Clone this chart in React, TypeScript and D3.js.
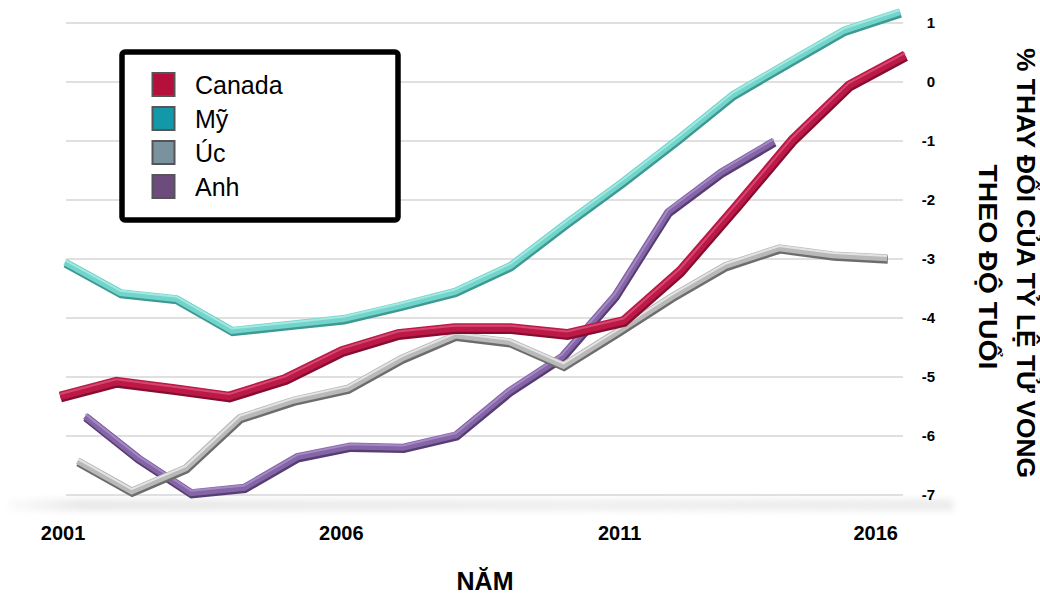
import React from "react";
import * as d3 from "d3";

const years = [2001, 2002, 2003, 2004, 2005, 2006, 2007, 2008, 2009, 2010, 2011, 2012, 2013, 2014, 2015, 2016];
const canada = [-5.32, -5.07, -5.19, -5.32, -5.02, -4.55, -4.26, -4.16, -4.16, -4.26, -4.04, -3.2, -2.1, -0.97, -0.05, 0.46];
const my = [-3.05, -3.57, -3.67, -4.21, -4.11, -4.01, -3.79, -3.55, -3.11, -2.39, -1.7, -0.97, -0.21, 0.34, 0.88, 1.19];
const uc = [-6.42, -6.93, -6.54, -5.69, -5.39, -5.19, -4.68, -4.29, -4.4, -4.8, -4.23, -3.64, -3.11, -2.81, -2.93, -2.98];
const anh = [-5.66, -6.37, -6.96, -6.87, -6.35, -6.17, -6.19, -5.98, -5.24, -4.65, -3.62, -2.2, -1.53, -1.0];
const yTicks = [1, 0, -1, -2, -3, -4, -5, -6, -7];
const xTickYears = [2001, 2006, 2011, 2016];
const seriesNames = ["Canada", "Mỹ", "Úc", "Anh"];
const yTitle1 = "% THAY ĐỔI CỦA TỶ LỆ TỬ VONG";
const yTitle2 = "THEO ĐỘ TUỔI";
const xTitle = "NĂM";

const W = 1040;
const H = 594;
const FONT = "'Liberation Sans', Arial, Helvetica, sans-serif";

const base = d3.scaleLinear().domain([2001, 2016]).range([60, 905]);
const cx = 482.5;
const y = d3.scaleLinear().domain([-7, 1]).range([495, 23]);

type S = {
  name: string;
  values: number[];
  depth: number;
  main: string;
  dark: string;
  light: string;
  swatch: string;
  width: number;
};

const series: S[] = [
  { name: seriesNames[0], values: canada, depth: 1, main: "#bc1947", dark: "#860d31", light: "#d9507a", swatch: "#b5103c", width: 10 },
  { name: seriesNames[1], values: my, depth: 0.988, main: "#72d4ca", dark: "#3d9991", light: "#a9ece5", swatch: "#1298a8", width: 8.5 },
  { name: seriesNames[2], values: uc, depth: 0.958, main: "#b9b9b9", dark: "#6d6d6d", light: "#eaeaea", swatch: "#7a929e", width: 8.5 },
  { name: seriesNames[3], values: anh, depth: 0.94, main: "#8465a6", dark: "#563d73", light: "#ab8ecb", swatch: "#6b4c7c", width: 8.5 },
];

function xFor(s: S) {
  const [r0, r1] = base.range();
  return d3
    .scaleLinear()
    .domain(base.domain())
    .range([cx - (cx - r0) * s.depth, cx + (r1 - cx) * s.depth]);
}

export default function App() {
  const drawOrder = [...series].reverse();
  const labelX = xFor(series[1]);
  return (
    <svg width={W} height={H} style={{ display: "block", position: "absolute", left: 0, top: 0, background: "#fff" }} fontFamily={FONT}>
      <defs>
        <linearGradient id="floorGrad" x1="0" x2="1" y1="0" y2="0">
          <stop offset="0" stopColor="#ececec" stopOpacity="0.2" />
          <stop offset="0.08" stopColor="#e9e9e9" stopOpacity="1" />
          <stop offset="0.6" stopColor="#f0f0f0" stopOpacity="1" />
          <stop offset="1" stopColor="#eaeaea" stopOpacity="0.9" />
        </linearGradient>
        <filter id="blur4" x="-5%" y="-100%" width="110%" height="300%">
          <feGaussianBlur stdDeviation="3" />
        </filter>
      </defs>
      <rect x={0} y={0} width={W} height={H} fill="#fff" />
      {/* floor */}
      <rect x={8} y={499} width={945} height={12} fill="url(#floorGrad)" filter="url(#blur4)" />
      {/* gridlines */}
      {yTicks.map((t) => (
        <line key={t} x1={66} x2={903} y1={y(t)} y2={y(t)} stroke="#d6d6d6" strokeWidth={1.5} />
      ))}
      {/* y tick labels */}
      {yTicks.map((t) => (
        <text key={"l" + t} x={935} y={y(t)} dy="0.36em" textAnchor="end" fontSize={15} fontWeight="bold" fill="#000">
          {t < 0 ? "-" + Math.abs(t) : String(t)}
        </text>
      ))}
      {/* series */}
      {drawOrder.map((s) => {
        const xs = xFor(s);
        const line = d3
          .line<number>()
          .x((_, i) => xs(years[i]))
          .y((v) => y(v));
        const d = line(s.values) || "";
        return (
          <g key={s.name}>
            <path d={d} fill="none" stroke={s.dark} strokeWidth={s.width} transform="translate(0.6,1.6)" strokeLinejoin="miter" />
            <path d={d} fill="none" stroke={s.main} strokeWidth={s.width - 1.5} strokeLinejoin="miter" />
            <path d={d} fill="none" stroke={s.light} strokeWidth={2} transform="translate(0,-1.8)" strokeLinejoin="miter" opacity={0.85} />
          </g>
        );
      })}
      {/* x labels */}
      {xTickYears.map((yr, i) => (
        <text
          key={yr}
          x={labelX(yr) - 2}
          y={540}
          textAnchor={i === xTickYears.length - 1 ? "end" : "middle"}
          fontSize={20}
          fontWeight="bold"
          fill="#000"
        >
          {yr}
        </text>
      ))}
      <text x={485} y={590} textAnchor="middle" fontSize={25} fontWeight="bold" fill="#000">
        {xTitle}
      </text>
      {/* y title */}
      <text
        transform={`translate(1026,263) rotate(90)`}
        textAnchor="middle"
        dy="0.36em"
        fontSize={26}
        fontWeight="bold"
        fill="#000"
        textLength={430}
        lengthAdjust="spacingAndGlyphs"
      >
        {yTitle1}
      </text>
      <text
        transform={`translate(988,267) rotate(90)`}
        textAnchor="middle"
        dy="0.36em"
        fontSize={26}
        fontWeight="bold"
        fill="#000"
        textLength={205}
        lengthAdjust="spacingAndGlyphs"
      >
        {yTitle2}
      </text>
      {/* legend */}
      <rect x={122} y={52} width={276} height={168} rx={3} fill="#fff" stroke="#000" strokeWidth={5.5} />
      {series.map((s, i) => (
        <g key={"lg" + s.name}>
          <rect x={152.5} y={73 + i * 34} width={22} height={23} fill={s.swatch} stroke="#555" strokeWidth={2} />
          <text x={195} y={84.5 + i * 34} dy="0.36em" fontSize={25} fill="#000">
            {s.name}
          </text>
        </g>
      ))}
    </svg>
  );
}
